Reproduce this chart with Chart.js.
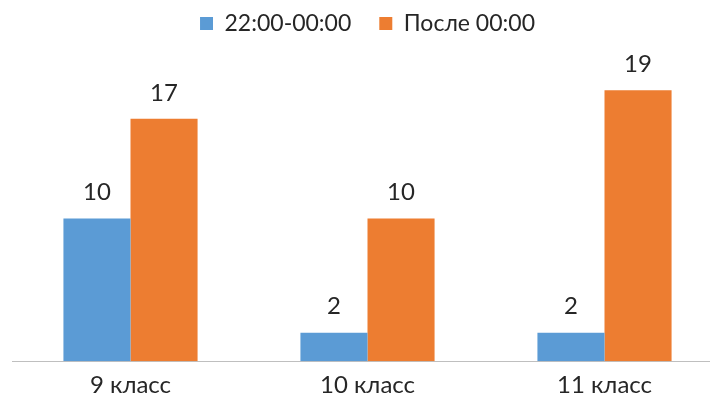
<!DOCTYPE html>
<html><head><meta charset="utf-8">
<script src="https://cdn.jsdelivr.net/npm/chart.js@4"></script>
<style>html,body{margin:0;padding:0;overflow:hidden;background:#fff;width:710px;height:405px}
#wrap{position:absolute;left:0;top:0;width:735px;height:405px}</style>
</head><body><div id="wrap"><canvas id="c" width="735" height="405"></canvas></div>
<script>
const categories = ["9 класс", "10 класс", "11 класс"];
const seriesNames = ["22:00-00:00", "После 00:00"];
const before = [10, 2, 2];
const after = [17, 10, 19];

const FONT = 'Lato';
const valueLabels = {
  id: 'valueLabels',
  afterDatasetsDraw(chart) {
    const ctx = chart.ctx;
    ctx.save();
    ctx.font = '24px ' + FONT;
    ctx.fillStyle = '#262626';
    ctx.textAlign = 'center';
    ctx.textBaseline = 'middle';
    chart.data.datasets.forEach((ds, i) => {
      chart.getDatasetMeta(i).data.forEach((bar, j) => {
        ctx.fillText(String(ds.data[j]), bar.x, bar.y - 26);
      });
    });
    ctx.restore();
  }
};
const legendSpacer = {
  id: 'legendSpacer',
  beforeInit(chart) {
    const lg = chart.legend;
    if (!lg) return;
    const fit = lg.fit;
    lg.fit = function () { fit.call(this); this.height += 31; };
  }
};

new Chart(document.getElementById('c'), {
  type: 'bar',
  data: {
    labels: categories,
    datasets: [
      { label: seriesNames[0], data: before, backgroundColor: '#5B9BD5' },
      { label: seriesNames[1], data: after, backgroundColor: '#ED7D31' }
    ]
  },
  options: {
    responsive: false,
    animation: false,
    devicePixelRatio: 1,
    layout: { padding: { left: 12, right: 12, top: -16, bottom: 3 } },
    datasets: { bar: { barPercentage: 1, categoryPercentage: 0.566 } },
    plugins: {
      legend: {
        position: 'top',
        labels: { font: { family: FONT, size: 23 }, color: '#262626', boxWidth: 13, boxHeight: 13, padding: 28 }
      },
      tooltip: { enabled: false }
    },
    scales: {
      x: {
        grid: { display: false },
        border: { display: true, color: '#BFBFBF', width: 1 },
        ticks: { font: { family: FONT, size: 24 }, color: '#262626', padding: 2 }
      },
      y: { display: false, min: 0, max: 20 }
    }
  },
  plugins: [legendSpacer, valueLabels]
});
</script></body></html>
